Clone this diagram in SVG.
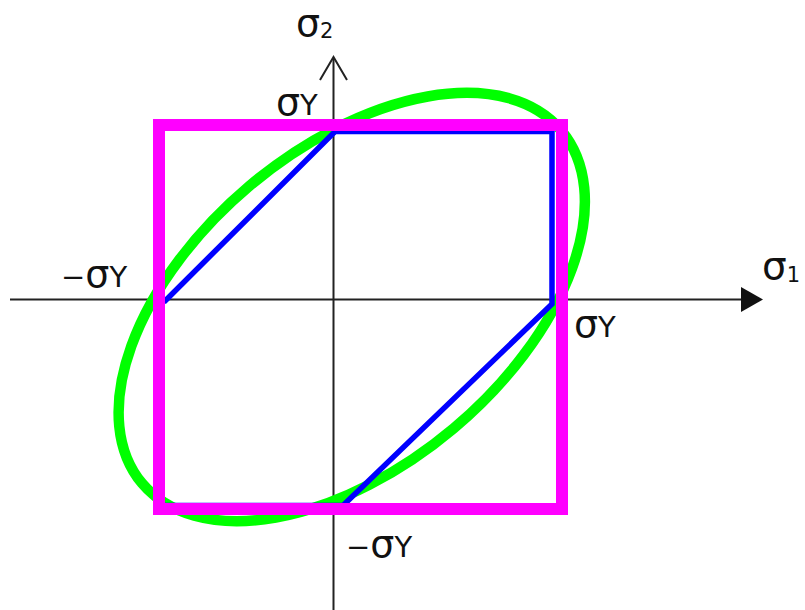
<svg xmlns="http://www.w3.org/2000/svg" width="805" height="610" viewBox="0 0 805 610">
<style>
.ax{stroke:#222;stroke-width:2;fill:none}
.lbl{font-family:"DejaVu Sans","Liberation Sans",sans-serif;fill:#111}
.sig{font-size:38px}
.big{font-size:39px}
.y{font-size:29px}
.sub{font-size:21px}
</style>
<rect width="805" height="610" fill="#fff"/>
<g id="connectors">
<line class="ax" x1="10" y1="299.5" x2="745" y2="299.5"/>
<polygon points="741,287 763,299.5 741,312" fill="#111"/>
<line class="ax" x1="333.5" y1="58" x2="333.5" y2="610"/>
<polyline class="ax" stroke-width="2.5" points="320,80 333.5,57 347,80"/>
</g>
<g id="vonmises">
<ellipse cx="351.75" cy="307" rx="274" ry="158.5" transform="rotate(-40.1 351.75 307)" fill="none" stroke="#00ff00" stroke-width="10.5"/>
</g>
<g id="tresca">
<polygon points="165,301 335,131.5 552,131.5 552,304 343,505.5 161,505.5 161,301" fill="none" stroke="#0000ff" stroke-width="5.5" stroke-linejoin="miter"/>
</g>
<g id="square">
<rect x="159" y="125" width="403" height="384" fill="none" stroke="#ff00ff" stroke-width="12"/>
</g>
<g id="labels" class="lbl">
<text x="296" y="36"><tspan class="sig">σ</tspan><tspan class="sub" dy="2">2</tspan></text>
<text x="762" y="279"><tspan class="big">σ</tspan><tspan class="sub" dy="3">1</tspan></text>
<text x="276" y="115"><tspan class="sig">σ</tspan><tspan class="y">Y</tspan></text>
<text x="574" y="337"><tspan class="sig">σ</tspan><tspan class="y">Y</tspan></text>
<text x="61" y="287"><tspan class="y">−</tspan><tspan class="sig">σ</tspan><tspan class="y">Y</tspan></text>
<text x="346" y="557"><tspan class="y">−</tspan><tspan class="sig">σ</tspan><tspan class="y">Y</tspan></text>
</g>
</svg>
